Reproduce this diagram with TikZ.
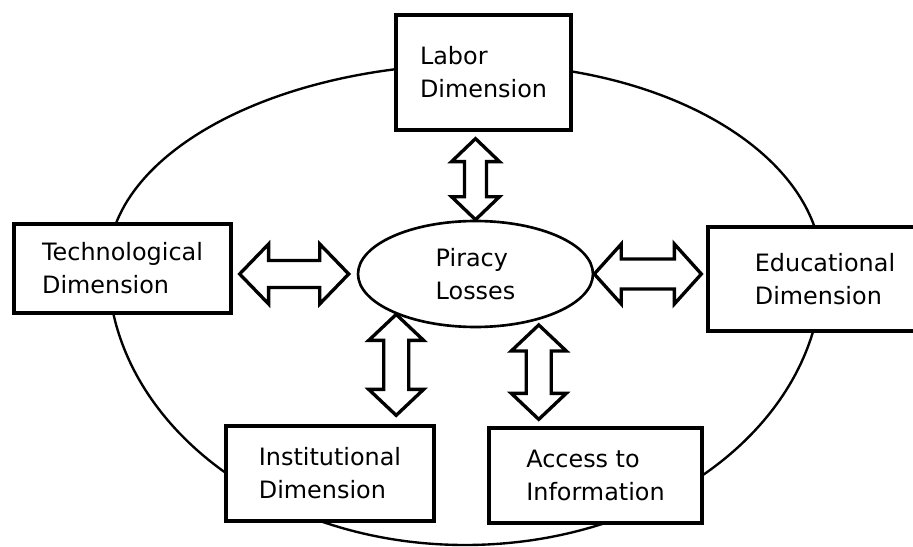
\documentclass[tikz,border=0pt]{standalone}
\usepackage{fontspec}
\setmainfont{DejaVu Sans}
\usetikzlibrary{calc,shapes.geometric}

% double headed block arrow between two points
% #1 from, #2 to, #3 half head width, #4 half shaft width, #5 head length
\newcommand{\blockarrow}[5]{%
    \coordinate (bh1) at ($(#1)!#5!(#2)$);%
    \coordinate (bh2) at ($(#2)!#5!(#1)$);%
    \draw[arrowbody] (#1)
        -- ($(bh1)!#3!90:(#2)$) -- ($(bh1)!#4!90:(#2)$)
        -- ($(bh2)!#4!-90:(#1)$) -- ($(bh2)!#3!-90:(#1)$)
        -- (#2)
        -- ($(bh2)!#3!90:(#1)$) -- ($(bh2)!#4!90:(#1)$)
        -- ($(bh1)!#4!-90:(#2)$) -- ($(bh1)!#3!-90:(#2)$)
        -- cycle;%
}

\begin{document}
\begin{tikzpicture}[x=0.02cm,y=-0.02cm]

    % Styles
    \tikzstyle{dimension}=[draw, line width=1.9pt, fill=white, align=left,
        inner sep=0pt, font=\fontsize{13.6}{18.8}\selectfont]
    \tikzstyle{losses}=[dimension, ellipse, line width=1.5pt]
    \tikzstyle{arrowbody}=[line width=1.9pt, fill=white, draw, line join=miter]

    \clip (0,0) rectangle (913,547);

    % outer loop through all dimensions
    \draw[line width=1.35pt] (108,265) .. controls (108,154) and (274.5,64) .. (480,64)
        .. controls (669,64) and (822,156) .. (822,270)
        .. controls (822,422) and (662,545) .. (465,545)
        .. controls (268,545) and (108,420) .. cycle;

    % dimensions
    \node[dimension, minimum width=3.5cm, minimum height=2.3cm] (labor)
        at (483.5,72.5) {Labor\\Dimension};
    \node[dimension, minimum width=4.34cm, minimum height=1.78cm] (tech)
        at (122.5,268.5) {Technological\\Dimension};
    \node[dimension, minimum width=4.68cm, minimum height=2.08cm] (edu)
        at (825,279) {Educational\\Dimension};
    \node[dimension, minimum width=4.16cm, minimum height=1.9cm] (inst)
        at (330,473.5) {Institutional\\Dimension};
    \node[dimension, minimum width=4.26cm, minimum height=1.9cm] (access)
        at (595.5,475.5) {Access to\\Information};

    % center
    \node[losses, minimum width=4.7cm, minimum height=2.12cm] (piracy)
        at (475.5,274) {Piracy\\Losses};

    % arrow ends
    \coordinate (labor-in) at ($(labor.south -| piracy.north)+(0,7)$);
    \coordinate (tech-in) at ($(tech.east |- piracy.west)+(7,0)$);
    \coordinate (piracy-w) at ($(piracy.west)+(-8,0)$);
    \coordinate (edu-in) at ($(edu.west |- piracy.east)+(-5,0)$);
    \coordinate (piracy-sw) at (piracy.-153);
    \coordinate (inst-in) at ($(piracy-sw |- inst.north)+(0,-9)$);
    \coordinate (piracy-se) at ($(piracy.-36)+(0,5)$);
    \coordinate (access-in) at ($(piracy-se |- access.north)+(0,-7)$);

    % block arrows
    \blockarrow{labor-in}{piracy.north}{0.48cm}{0.22cm}{0.46cm}
    \blockarrow{tech-in}{piracy-w}{0.6cm}{0.27cm}{0.58cm}
    \blockarrow{piracy.east}{edu-in}{0.6cm}{0.3cm}{0.54cm}
    \blockarrow{piracy-sw}{inst-in}{0.55cm}{0.25cm}{0.52cm}
    \blockarrow{piracy-se}{access-in}{0.55cm}{0.25cm}{0.52cm}

\end{tikzpicture}
\end{document}
